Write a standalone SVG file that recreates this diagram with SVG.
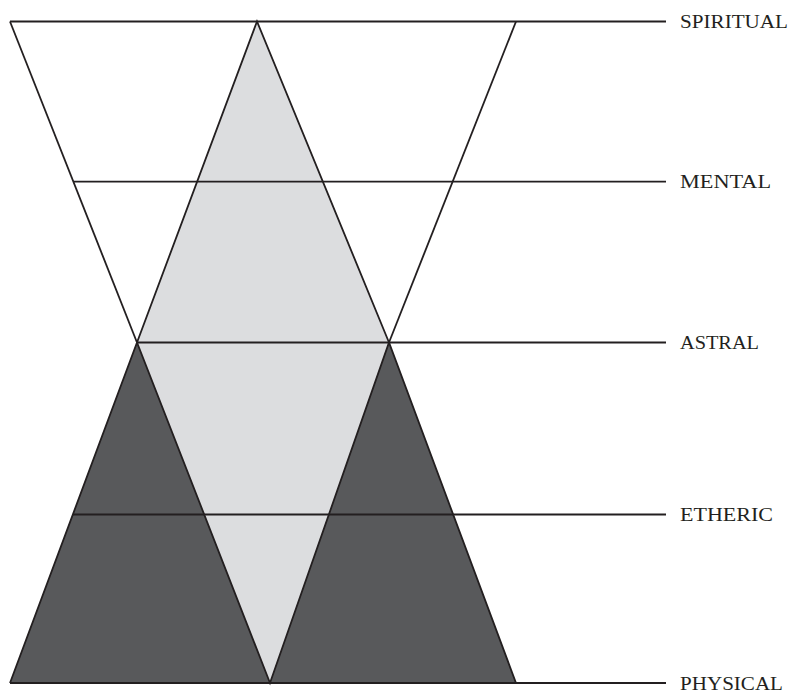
<svg xmlns="http://www.w3.org/2000/svg" width="791" height="693" viewBox="0 0 791 693">
<style>
.edge{fill:none;stroke:#231f20;stroke-width:1.8;stroke-linejoin:miter}
.lvl{fill:none;stroke:#231f20;stroke-width:1.8}
.light{fill:#dcdddf}
.dark{fill:#58595b}
.lbl{font-family:"Liberation Serif","DejaVu Serif",serif;font-size:19.5px;fill:#231f20}
</style>
<rect width="791" height="693" fill="#ffffff"/>
<g id="diamond">
<polygon class="light" points="257,21.5 389,342.5 270,683 137,342.5"/>
</g>
<g id="left-triangle">
<polygon class="dark" points="137,342.5 270,683 10,683"/>
</g>
<g id="right-triangle">
<polygon class="dark" points="389,342.5 516,683 270,683"/>
</g>
<g id="connectors">
<line class="lvl" x1="10" y1="21.5" x2="666" y2="21.5"/>
<line class="lvl" x1="73.4" y1="181.7" x2="666" y2="181.7"/>
<line class="lvl" x1="137" y1="342.5" x2="666" y2="342.5"/>
<line class="lvl" x1="73" y1="514.5" x2="666" y2="514.5"/>
<line class="lvl" x1="10" y1="683" x2="666" y2="683"/>
</g>
<g id="inverted-triangle">
<polyline class="edge" points="10,21.5 137,342.5"/>
<polyline class="edge" points="516,21.5 389,342.5"/>
</g>
<g id="edges">
<polyline class="edge" points="137,342.5 257,21.5 389,342.5"/>
<polyline class="edge" points="10,683 137,342.5 270,683 389,342.5 516,683"/>
</g>
<g id="labels">
<text class="lbl" x="680" y="27.5" textLength="108" lengthAdjust="spacingAndGlyphs">SPIRITUAL</text>
<text class="lbl" x="680" y="188" textLength="91" lengthAdjust="spacingAndGlyphs">MENTAL</text>
<text class="lbl" x="680" y="348.5" textLength="79" lengthAdjust="spacingAndGlyphs">ASTRAL</text>
<text class="lbl" x="680" y="521" textLength="93" lengthAdjust="spacingAndGlyphs">ETHERIC</text>
<text class="lbl" x="680" y="689.5" textLength="103" lengthAdjust="spacingAndGlyphs">PHYSICAL</text>
</g>
</svg>
